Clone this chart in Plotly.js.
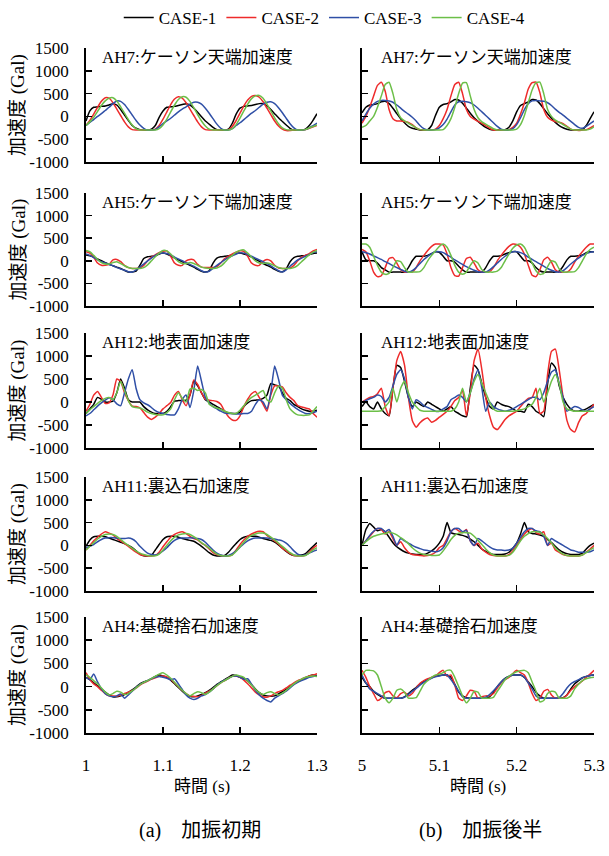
<!DOCTYPE html>
<html><head><meta charset="utf-8">
<script src="https://cdn.plot.ly/plotly-3.0.1.min.js"></script>
<style>html,body{margin:0;padding:0;background:#fff}#chart{width:609px;height:856px}</style>
</head><body><div id="chart"></div>
<script>
const timeEarly=[1.000,1.005,1.010,1.015,1.020,1.025,1.030,1.035,1.040,1.045,1.050,1.055,1.060,1.065,1.070,1.075,1.080,1.085,1.090,1.095,1.100,1.105,1.110,1.115,1.120,1.125,1.130,1.135,1.140,1.145,1.150,1.155,1.160,1.165,1.170,1.175,1.180,1.185,1.190,1.195,1.200,1.205,1.210,1.215,1.220,1.225,1.230,1.235,1.240,1.245,1.250,1.255,1.260,1.265,1.270,1.275,1.280,1.285,1.290,1.295,1.300];
const timeLate=[5.000,5.005,5.010,5.015,5.020,5.025,5.030,5.035,5.040,5.045,5.050,5.055,5.060,5.065,5.070,5.075,5.080,5.085,5.090,5.095,5.100,5.105,5.110,5.115,5.120,5.125,5.130,5.135,5.140,5.145,5.150,5.155,5.160,5.165,5.170,5.175,5.180,5.185,5.190,5.195,5.200,5.205,5.210,5.215,5.220,5.225,5.230,5.235,5.240,5.245,5.250,5.255,5.260,5.265,5.270,5.275,5.280,5.285,5.290,5.295,5.300];

const caseNames=['CASE-1','CASE-2','CASE-3','CASE-4'];
const caseColors=['#000000','#ee2b2b','#2f4fa6','#6cbf48'];
const panelTitles=[['AH7:ケーソン天端加速度','AH7:ケーソン天端加速度'],['AH5:ケーソン下端加速度','AH5:ケーソン下端加速度'],['AH12:地表面加速度','AH12:地表面加速度'],['AH11:裏込石加速度','AH11:裏込石加速度'],['AH4:基礎捨石加速度','AH4:基礎捨石加速度']];
const yTickVals=[-1000,-500,0,500,1000,1500];
const yTickText=['-1000','-500','0','500','1000','1500'];
const xTickEarly=[1,1.1,1.2,1.3];
const xTickEarlyText=['1','1.1','1.2','1.3'];
const xTickLate=[5,5.1,5.2,5.3];
const xTickLateText=['5','5.1','5.2','5.3'];
const yTitle='加速度 (Gal)';
const xTitle='時間 (s)';
const captions=['(a)　加振初期','(b)　加振後半'];

// AH7 (early / late)
const AH7_a_c1=[-100,120,200,210,220,230,250,280,250,150,30,-90,-200,-260,-290,-300,-300,-280,-200,-20,120,200,210,220,240,260,280,250,180,90,-10,-100,-170,-240,-290,-300,-300,-280,-150,50,180,220,230,240,260,280,280,230,150,60,-30,-110,-190,-260,-300,-300,-300,-280,-200,-80,60];
const AH7_a_c2=[-200,-90,50,200,330,410,400,300,160,20,-120,-230,-290,-300,-300,-300,-300,-300,-280,-200,-60,100,260,380,430,400,300,160,20,-120,-230,-290,-300,-300,-300,-300,-300,-290,-220,-90,70,230,360,440,460,420,320,180,40,-100,-210,-280,-310,-310,-300,-300,-300,-290,-260,-230,-200];
const AH7_a_c3=[-200,-130,-70,0,60,130,200,280,340,330,260,150,30,-90,-190,-260,-300,-300,-290,-230,-160,-100,-40,30,100,160,210,270,310,310,270,180,70,-50,-170,-260,-300,-300,-270,-200,-140,-70,0,70,130,200,270,310,320,280,190,80,-40,-160,-250,-300,-300,-290,-250,-200,-150];
const AH7_a_c4=[-200,-120,-20,110,240,340,400,410,340,210,70,-70,-190,-270,-300,-300,-300,-300,-300,-270,-190,-60,100,250,370,430,420,330,190,40,-100,-210,-280,-300,-300,-300,-300,-300,-270,-180,-40,120,270,390,450,460,400,270,120,-30,-160,-250,-290,-300,-300,-300,-300,-290,-250,-220,-190];
const AH7_b_c1=[80,200,250,260,280,320,330,280,180,60,-50,-140,-220,-260,-280,-300,-300,-290,-200,20,200,260,280,320,370,360,290,180,70,-30,-110,-180,-240,-280,-300,-300,-300,-290,-240,-100,100,240,280,320,370,360,280,170,60,-40,-130,-200,-250,-280,-300,-300,-300,-290,-200,-50,100];
const AH7_b_c2=[-150,0,200,450,680,750,550,150,-50,-100,-100,-110,-130,-180,-250,-290,-300,-300,-300,-280,-200,-50,150,450,700,750,500,150,0,-60,-110,-150,-200,-260,-300,-300,-300,-300,-290,-240,-150,50,300,600,740,750,520,150,-20,-80,-110,-130,-160,-220,-280,-300,-310,-300,-290,-250,-200];
const AH7_b_c3=[-100,50,180,270,330,350,350,340,310,250,180,110,50,-20,-100,-200,-270,-300,-300,-290,-250,-180,-60,100,250,320,330,320,300,250,180,100,20,-60,-140,-220,-280,-300,-300,-270,-180,-30,150,280,340,350,340,330,300,240,160,90,30,-40,-110,-180,-240,-260,-220,-160,-100];
const AH7_b_c4=[-240,-200,-100,0,200,450,700,750,500,150,-30,-100,-150,-200,-250,-290,-300,-300,-300,-300,-300,-290,-200,-50,200,500,730,740,450,150,-30,-120,-170,-220,-270,-300,-300,-300,-300,-300,-280,-180,20,300,580,740,750,500,150,0,-80,-130,-180,-230,-280,-300,-300,-300,-300,-280,-230];

// AH5
const AH5_a_c1=[130,110,80,40,0,-40,-80,-110,-140,-170,-210,-250,-250,-230,-100,50,90,100,110,150,170,150,110,60,20,-20,-60,-100,-140,-190,-230,-250,-220,-50,60,90,100,110,130,160,170,150,120,80,30,-10,-60,-100,-140,-190,-230,-240,-180,-20,70,100,110,120,140,160,170];
const AH5_a_c2=[200,170,80,-50,-100,-100,-80,20,30,-20,-100,-150,-170,-170,-160,-100,0,80,130,180,210,220,100,-50,-100,-100,0,30,20,-80,-140,-150,-150,-150,-130,-50,50,100,150,190,220,210,100,-50,-100,-100,-10,30,0,-100,-160,-170,-170,-160,-100,0,80,120,160,220,250];
const AH5_a_c3=[150,120,70,20,-20,-50,-80,-110,-150,-180,-210,-240,-250,-200,-140,-70,0,60,120,160,170,160,130,80,40,0,-40,-80,-120,-170,-220,-250,-230,-170,-100,-40,20,70,110,150,180,170,140,100,60,20,-20,-60,-110,-170,-220,-250,-200,-120,-50,20,60,100,140,180,200];
const AH5_a_c4=[230,200,120,30,-40,-70,-70,-40,-20,-60,-110,-150,-170,-170,-170,-150,-90,0,90,170,230,220,150,60,-20,-60,-60,-40,-60,-100,-140,-160,-170,-170,-160,-120,-40,50,120,190,230,240,170,80,0,-50,-60,-50,-70,-110,-150,-170,-170,-170,-150,-100,-20,60,130,190,230];
const AH5_b_c1=[200,20,0,0,-50,-150,-200,-250,-250,-250,-250,-250,-150,0,100,100,100,120,160,200,190,100,0,0,-30,-120,-200,-250,-250,-250,-250,-250,-150,0,100,100,110,150,180,200,200,100,0,0,-50,-150,-220,-250,-250,-250,-250,-230,-120,20,100,100,110,130,180,200,200];
const AH5_b_c2=[250,200,0,-250,-350,-330,-150,50,70,-50,-200,-250,-250,-250,-150,0,120,230,320,370,370,350,150,-150,-330,-340,-150,50,80,-50,-200,-250,-250,-240,-150,0,120,230,320,370,360,300,150,-100,-320,-350,-200,20,80,-30,-200,-250,-250,-250,-180,-30,100,200,300,370,370];
const AH5_b_c3=[200,180,150,110,70,30,-20,-60,-110,-150,-190,-230,-250,-220,-150,-60,30,100,160,200,200,180,130,80,20,-30,-80,-130,-170,-210,-240,-250,-250,-200,-130,-50,30,100,160,200,200,180,140,80,30,-20,-70,-120,-170,-210,-240,-250,-220,-150,-70,0,60,120,160,190,200];
const AH5_b_c4=[370,370,300,100,-100,-250,-300,-280,-150,0,-20,-150,-250,-250,-250,-240,-150,0,120,220,320,370,300,120,-100,-250,-300,-250,-100,0,-50,-200,-250,-250,-250,-230,-150,0,150,280,350,370,300,130,-50,-220,-300,-280,-130,0,-30,-180,-250,-250,-250,-240,-150,0,150,250,300];

// AH12
const AH12_a_c1=[-250,-150,-50,100,60,0,0,20,200,500,300,50,0,0,0,-100,-170,-220,-250,-250,-250,-200,-100,20,30,30,40,150,450,350,200,50,0,-50,-100,-150,-200,-240,-250,-250,-220,-100,-20,30,40,50,80,150,400,370,350,200,80,30,-50,-100,-150,-180,-200,-200,-180];
const AH12_a_c2=[-200,-50,150,230,100,-30,-20,150,500,450,200,30,-90,-100,-130,-230,-330,-380,-330,-250,-150,-80,-10,150,230,50,-80,150,480,380,200,60,40,30,10,-50,-200,-320,-390,-400,-300,-100,60,180,230,100,-50,-200,150,350,350,330,200,100,30,-80,-110,-130,-150,-250,-330];
const AH12_a_c3=[-300,-250,-170,-90,-20,40,90,50,-40,-80,200,500,700,300,50,-20,-60,-120,-190,-230,-250,-270,-280,-280,-150,50,150,-120,250,780,450,100,-20,-100,-150,-200,-240,-250,-250,-260,-260,-250,-250,-200,-50,50,0,-150,200,780,500,150,50,-30,-100,-160,-210,-250,-250,-230,-200];
const AH12_a_c4=[-250,-170,-100,-30,30,80,100,50,200,450,250,30,-100,-120,-130,-170,-220,-250,-270,-280,-280,-230,-150,50,200,80,0,280,300,250,270,200,-50,-100,-130,-160,-200,-230,-250,-250,-180,-80,20,100,150,200,250,50,0,200,350,300,50,-150,-230,-280,-290,-290,-280,-200,-100];
const AH12_b_c1=[-100,0,-100,-150,0,-150,-250,-300,300,800,750,450,100,-100,0,-50,-100,0,-50,-100,-150,-200,-150,-100,-200,-250,-300,-320,300,800,700,400,100,-100,-150,0,-50,-80,-100,-150,-200,-200,-220,-50,-100,-200,-250,-320,400,850,750,350,100,-50,-150,-200,-200,-180,-150,-100,-50];
const AH12_b_c2=[0,50,100,120,180,300,-100,-300,300,900,1100,800,100,-400,-550,-450,-380,-350,-440,-400,-330,-270,-200,-100,30,100,250,-300,200,900,1150,700,100,-300,-550,-600,-500,-380,-300,-250,-200,-100,0,80,100,300,-250,-200,600,1100,1150,700,100,-400,-600,-650,-450,-300,-250,-150,-50];
const AH12_b_c3=[0,30,70,100,150,120,0,100,350,600,700,500,100,-150,50,0,-80,-120,-160,-200,-200,-150,-100,50,100,150,100,0,200,500,700,300,-200,0,-100,-150,-180,-200,-180,-150,-100,-50,0,50,100,100,50,200,450,650,700,400,100,-200,-150,-100,-120,-170,-200,-150,-100];
const AH12_b_c4=[-200,-200,-200,-200,-200,-190,-100,0,300,0,300,450,200,0,-100,-180,-200,-200,-200,-200,-200,-200,-200,-200,-150,0,300,0,200,450,600,400,200,0,-150,-200,-200,-200,-200,-200,-190,-170,-150,-100,-50,100,300,0,200,450,600,400,0,-150,-180,-200,-200,-200,-200,-200,-200];

// AH11
const AH11_a_c1=[-20,120,190,200,200,190,160,130,100,70,40,0,-50,-120,-190,-230,-230,-220,-100,20,130,190,200,200,180,150,130,110,90,40,-20,-90,-160,-210,-230,-230,-220,-150,-50,40,130,180,200,200,200,180,150,130,110,70,10,-60,-130,-190,-220,-220,-210,-180,-100,-20,60];
const AH11_a_c2=[-100,0,100,180,250,300,270,230,150,100,40,-20,-90,-150,-200,-220,-230,-230,-220,-150,-30,80,180,240,280,300,260,200,150,120,50,0,-80,-160,-200,-220,-230,-230,-200,-100,20,120,200,250,290,310,300,220,160,100,30,-60,-120,-180,-220,-230,-230,-220,-150,-60,0];
const AH11_a_c3=[-50,-20,20,80,130,160,170,170,160,150,150,160,140,80,-20,-100,-170,-200,-210,-180,-120,-50,40,110,150,160,160,170,160,150,130,70,-20,-100,-170,-210,-230,-220,-180,-120,-40,40,100,140,160,160,170,160,150,140,120,100,50,-30,-120,-190,-220,-210,-170,-130,-100];
const AH11_a_c4=[-100,-20,60,140,200,240,250,240,200,130,60,0,-60,-120,-170,-200,-220,-230,-230,-190,-100,0,100,180,230,250,260,240,190,130,60,0,-60,-130,-190,-220,-230,-230,-210,-130,-30,70,160,220,250,270,270,240,180,120,50,-20,-90,-160,-210,-230,-230,-220,-170,-100,-50];
const AH11_b_c1=[0,350,480,400,320,350,300,180,60,-30,-90,-140,-170,-190,-200,-200,-200,-170,-120,-50,50,200,500,280,250,240,220,190,140,80,0,-80,-130,-170,-200,-200,-200,-190,-150,-60,50,250,500,300,260,250,230,200,130,60,-20,-100,-150,-180,-200,-200,-200,-170,-80,0,50];
const AH11_b_c2=[0,100,200,300,370,350,250,300,150,0,80,-50,-150,-200,-210,-220,-230,-220,-200,-150,-50,0,150,300,370,320,280,350,100,0,50,-80,-150,-200,-220,-230,-230,-230,-200,-120,0,130,250,330,370,280,250,300,0,50,-100,-150,-200,-220,-230,-230,-230,-210,-150,-80,0];
const AH11_b_c3=[0,100,220,310,370,370,300,350,200,0,150,100,50,0,-40,-70,-100,-110,-130,-140,-120,-50,100,300,370,370,300,330,100,0,150,100,30,-30,-80,-100,-100,-110,-100,-60,50,180,300,370,370,320,300,200,0,150,100,50,0,-50,-100,-120,-150,-150,-150,-140,-100];
const AH11_b_c4=[0,80,150,200,230,250,260,290,270,230,170,110,40,-50,-120,-170,-200,-210,-220,-220,-210,-120,0,130,220,270,280,280,270,200,110,20,-80,-160,-210,-230,-230,-230,-220,-150,-30,100,200,260,300,300,290,230,150,50,-50,-130,-190,-220,-230,-230,-230,-210,-160,-100,-50];

// AH4
const AH4_a_c1=[200,150,80,20,-50,-120,-180,-220,-220,-200,-170,-120,-70,-10,60,100,130,170,220,250,230,200,140,60,-20,-100,-170,-210,-220,-200,-170,-130,-80,-20,50,100,150,200,250,240,200,180,120,40,-50,-130,-180,-200,-210,-200,-160,-110,-60,0,60,110,150,190,230,250,240];
const AH4_a_c2=[300,150,60,0,-80,-150,-200,-200,-210,-180,-150,-120,-90,-30,30,80,120,160,190,220,230,210,160,80,0,-80,-150,-200,-210,-220,-190,-140,-100,-50,20,80,130,180,220,230,200,140,60,-30,-120,-180,-220,-230,-200,-150,-110,-80,-30,30,80,130,160,200,230,250,280];
const AH4_a_c3=[200,150,270,100,-50,-150,-200,-220,-200,-160,-250,-180,-100,-20,50,90,130,170,200,220,200,180,150,170,60,-60,-180,-250,-280,-250,-200,-170,-120,-50,30,90,140,180,220,230,200,160,170,50,-80,-180,-250,-300,-330,-250,-200,-150,-100,-30,40,90,130,160,200,220,230];
const AH4_a_c4=[250,200,130,60,-30,-120,-180,-150,-100,-120,-170,-150,-90,-30,40,90,130,170,220,270,300,250,180,90,0,-80,-150,-200,-150,-110,-130,-170,-120,-50,20,80,130,180,220,250,230,200,120,30,-60,-130,-170,-130,-110,-150,-180,-140,-80,-10,60,120,160,200,220,230,220];
const AH4_b_c1=[200,80,0,-100,-170,-220,-250,-250,-250,-250,-250,-220,-150,-80,-20,60,110,150,190,220,240,250,250,200,50,-120,-200,-240,-250,-250,-250,-250,-250,-220,-120,0,100,180,220,250,250,250,200,100,0,-120,-200,-250,-250,-250,-250,-250,-240,-180,-50,60,130,190,220,240,250];
const AH4_b_c2=[350,200,0,-150,-300,-250,-130,-100,-200,-240,-150,-120,-200,-150,-30,70,130,170,200,230,300,350,220,250,30,-250,-300,-200,-80,-100,-250,-220,-200,-200,-150,-30,80,150,200,280,350,300,250,80,-150,-300,-250,-100,-60,-180,-250,-250,-250,-180,-80,0,60,120,200,270,350];
const AH4_b_c3=[250,80,-50,-100,-150,-200,-250,-250,-250,-250,-250,-230,-170,-100,-40,30,90,140,180,210,230,250,250,150,30,-100,-220,-250,-250,-250,-250,-250,-230,-170,-90,0,100,170,220,250,250,250,200,80,-50,-200,-250,-250,-250,-250,-250,-240,-150,-30,60,110,150,190,220,240,250];
const AH4_b_c4=[250,350,350,340,250,0,-250,-350,-250,-80,-50,-120,-250,-250,-240,-100,50,130,200,250,270,300,350,350,200,0,-200,-350,-250,-100,-120,-250,-250,-250,-230,-100,20,150,220,280,320,340,350,300,100,-100,-330,-300,-150,-100,-120,-250,-250,-250,-200,-50,50,130,170,190,200];

const panelData=[
  [[AH7_a_c1,AH7_a_c2,AH7_a_c3,AH7_a_c4],[AH7_b_c1,AH7_b_c2,AH7_b_c3,AH7_b_c4]],
  [[AH5_a_c1,AH5_a_c2,AH5_a_c3,AH5_a_c4],[AH5_b_c1,AH5_b_c2,AH5_b_c3,AH5_b_c4]],
  [[AH12_a_c1,AH12_a_c2,AH12_a_c3,AH12_a_c4],[AH12_b_c1,AH12_b_c2,AH12_b_c3,AH12_b_c4]],
  [[AH11_a_c1,AH11_a_c2,AH11_a_c3,AH11_a_c4],[AH11_b_c1,AH11_b_c2,AH11_b_c3,AH11_b_c4]],
  [[AH4_a_c1,AH4_a_c2,AH4_a_c3,AH4_a_c4],[AH4_b_c1,AH4_b_c2,AH4_b_c3,AH4_b_c4]]
];

const W=609,H=856;
const FONT='Liberation Serif, Noto Sans CJK JP, serif';
const colPx=[[86,317],[362,594]];
const rowPx=[[48,162],[193,306],[333,448],[477,591],[617,733]];

const traces=[];
const layout={
  width:W,height:H,margin:{l:0,r:0,t:0,b:0},
  paper_bgcolor:'#ffffff',plot_bgcolor:'#ffffff',
  font:{family:FONT,size:17,color:'#000'},
  showlegend:true,
  legend:{orientation:'h',x:0.195,xanchor:'left',y:1.0,yanchor:'top',font:{family:FONT,size:17,color:'#000'},bgcolor:'rgba(0,0,0,0)'},
  annotations:[]
};

for(let r=0;r<5;r++){
  for(let c=0;c<2;c++){
    const k=r*2+c+1;
    const xs=k===1?'':String(k);
    const xa={
      domain:[colPx[c][0]/W,colPx[c][1]/W],
      anchor:'y'+xs,
      range:c===0?[1,1.3]:[5,5.3],
      tickmode:'array',
      tickvals:c===0?xTickEarly:xTickLate,
      ticktext:c===0?xTickEarlyText:xTickLateText,
      ticks:'inside',ticklen:6,tickwidth:1.5,tickcolor:'#000',
      showline:true,linecolor:'#000',linewidth:1.8,
      showgrid:false,zeroline:false,
      showticklabels:r===4,
      tickfont:{family:FONT,size:17,color:'#000'},
      ticklabelstandoff:16,
      fixedrange:true
    };
    const ya={
      domain:[1-rowPx[r][1]/H,1-rowPx[r][0]/H],
      anchor:'x'+xs,
      range:[-1000,1500],
      tickmode:'array',tickvals:yTickVals,ticktext:yTickText,
      ticks:'inside',ticklen:6,tickwidth:1.5,tickcolor:'#000',
      showline:true,linecolor:'#000',linewidth:1.8,
      showgrid:false,zeroline:false,
      showticklabels:c===0,
      tickfont:{family:FONT,size:17,color:'#000'},
      ticklabelstandoff:12,
      fixedrange:true
    };
    layout['xaxis'+xs]=xa;
    layout['yaxis'+xs]=ya;
    for(let s=0;s<4;s++){
      traces.push({
        type:'scatter',mode:'lines',
        x:c===0?timeEarly:timeLate,
        y:panelData[r][c][s],
        xaxis:'x'+xs,yaxis:'y'+xs,
        name:caseNames[s],legendgroup:caseNames[s],
        showlegend:k===1,
        line:{color:caseColors[s],width:1.5,shape:'spline',smoothing:0.5},
        hoverinfo:'skip'
      });
    }
    layout.annotations.push({
      xref:'x'+xs+' domain',yref:'y'+xs+' domain',
      x:c===0?0.06:0.073,y:0.92,xanchor:'left',yanchor:'middle',
      text:panelTitles[r][c],showarrow:false,
      font:{family:FONT,size:17,color:'#000'}
    });
    if(c===0){
      layout.annotations.push({
        xref:'paper',yref:'y'+xs+' domain',
        x:18/W,y:0.5,xanchor:'center',yanchor:'middle',textangle:-90,
        text:yTitle,showarrow:false,
        font:{family:FONT,size:19,color:'#000'}
      });
    }
    if(r===4){
      layout.annotations.push({
        xref:'x'+xs+' domain',yref:'paper',
        x:0.5,y:1-786/H,xanchor:'center',yanchor:'middle',
        text:xTitle,showarrow:false,
        font:{family:FONT,size:17,color:'#000'}
      });
      layout.annotations.push({
        xref:'paper',yref:'paper',
        x:(c===0?200:480)/W,y:1-830/H,xanchor:'center',yanchor:'middle',
        text:captions[c],showarrow:false,
        font:{family:FONT,size:20,color:'#000'}
      });
    }
  }
}

Plotly.newPlot('chart',traces,layout,{displayModeBar:false,staticPlot:true});
</script>
</body></html>
